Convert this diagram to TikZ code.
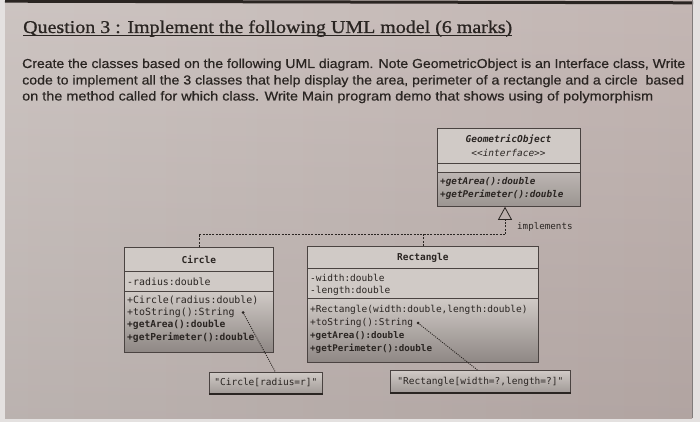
\documentclass[tikz,border=0pt]{standalone}
\usepackage{fontspec}
\setmainfont{Liberation Serif}
\newfontfamily\titlefont[FakeBold=0.8]{Liberation Serif}
\newfontfamily\parafont[FakeBold=0.5]{Liberation Sans}
\newfontfamily\umlfont{DejaVu Sans Mono}
\usetikzlibrary{arrows.meta}
\definecolor{ink}{HTML}{2A2522}
\definecolor{edgec}{HTML}{4A4341}
\definecolor{boxfill}{HTML}{D0CAC6}
\definecolor{opsTop}{HTML}{D0CAC6}
\definecolor{opsBot}{HTML}{8E8784}
\definecolor{margin}{HTML}{E4E1E0}
\definecolor{paperL}{HTML}{C9C0BD}
\definecolor{paperR}{HTML}{BFB1AE}
\begin{document}
\begin{tikzpicture}[x=1pt,y=-1pt,
  sect/.style={draw=edgec, line width=0.8pt, fill=boxfill, anchor=north west, inner sep=0pt},
  opsect/.style={draw=edgec, line width=0.8pt, top color=opsTop, bottom color=opsBot, anchor=north west, inner sep=0pt},
  notebox/.style={draw=edgec, line width=0.8pt, top color=boxfill, bottom color=opsBot!70!boxfill, inner sep=0pt, anchor=north west},
  umltxt/.style={font=\umlfont\fontsize{9.5pt}{11pt}\selectfont, text=ink, inner sep=0pt},
  leftrow/.style={umltxt, anchor=west},
  realize/.style={draw=ink, line width=0.8pt, dash pattern=on 2pt off 1.3pt},
  dotline/.style={draw=ink, line width=0.9pt, dash pattern=on 1pt off 1.2pt},
]
\useasboundingbox (0,0) rectangle (700,422);
% paper
\fill[margin] (0,0) rectangle (700,422);
\shade[left color=paperL, right color=paperR] (5,0) rectangle (692,418);
\shade[top color=white, bottom color=black, fill opacity=0.07] (5,0) rectangle (692,418);
\draw[line width=3pt, ink] (5,1.2) -- (693,2.8);
\draw[line width=1pt, edgec!70] (692.5,0) -- (692.5,418);

% title and text
\node[anchor=base west, inner sep=0pt, text=ink, font=\titlefont\fontsize{18pt}{20pt}\selectfont] (title) at (23,33)
  {\resizebox{489pt}{\height}{Question 3 : Implement the following UML model (6 marks)}};
\draw[ink, line width=0.9pt] ([yshift=-2.6pt]title.base west) -- ([yshift=-2.6pt]title.base east);

\node[anchor=base west, inner sep=0pt, text=ink, font=\parafont\fontsize{13pt}{14pt}\selectfont] (p1) at (22,68)
  {\resizebox{663pt}{\height}{Create the classes based on the following UML diagram. Note GeometricObject is an Interface class, Write}};
\node[anchor=base west, inner sep=0pt, text=ink, font=\parafont\fontsize{13pt}{14pt}\selectfont] (p2) at (22,84.5)
  {\resizebox{662pt}{\height}{code to implement all the 3 classes that help display the area, perimeter of a rectangle and a circle~ based}};
\node[anchor=base west, inner sep=0pt, text=ink, font=\parafont\fontsize{13pt}{14pt}\selectfont] (p3) at (22,100.5)
  {\resizebox{631pt}{\height}{on the method called for which class. Write Main program demo that shows using of polymorphism}};

% GeometricObject
\node[sect, minimum width=143pt, minimum height=35pt] (gName) at (437,128) {};
\node[sect, minimum width=143pt, minimum height=9pt] (gAttr) at (437,163) {};
\node[opsect, top color=opsTop!70!opsBot, bottom color=opsBot!80!opsTop, minimum width=143pt, minimum height=34pt] (gOps) at (437,172) {};
\node[umltxt, font=\umlfont\bfseries\itshape\fontsize{9.5pt}{11pt}\selectfont] (gT1) at (508.5,140) {GeometricObject};
\node[umltxt, font=\umlfont\itshape\fontsize{9.5pt}{11pt}\selectfont] (gT2) at (508.5,153) {<<interface>>};
\node[leftrow, font=\umlfont\bfseries\itshape\fontsize{9.3pt}{11pt}\selectfont] (gO1) at (440,182) {+getArea():double};
\node[leftrow, font=\umlfont\bfseries\itshape\fontsize{9.3pt}{11pt}\selectfont] (gO2) at (440,194.5) {+getPerimeter():double};

% Circle
\node[sect, minimum width=149pt, minimum height=24pt] (cName) at (124,247) {};
\node[sect, minimum width=149pt, minimum height=20pt] (cAttr) at (124,271) {};
\node[opsect, minimum width=149pt, minimum height=61pt] (cOps) at (124,291) {};
\node[umltxt, font=\umlfont\bfseries\fontsize{9.5pt}{11pt}\selectfont] (cT) at (cName.center) {Circle};
\node[leftrow, font=\umlfont\fontsize{9.9pt}{11pt}\selectfont] (cA1) at (127,281.5) {-radius:double};
\node[leftrow, font=\umlfont\fontsize{9.9pt}{11pt}\selectfont] (cO1) at (127,300) {+Circle(radius:double)};
\node[leftrow, font=\umlfont\fontsize{9.9pt}{11pt}\selectfont] (cO2) at (127,312.5) {+toString():String};
\node[leftrow, font=\umlfont\bfseries\fontsize{9.6pt}{11pt}\selectfont] (cO3) at (127,325) {+getArea():double};
\node[leftrow, font=\umlfont\bfseries\fontsize{9.6pt}{11pt}\selectfont] (cO4) at (127,338) {+getPerimeter():double};

% Rectangle
\node[sect, minimum width=231pt, minimum height=22pt] (rName) at (307,246) {};
\node[sect, minimum width=231pt, minimum height=30pt] (rAttr) at (307,268) {};
\node[opsect, minimum width=231pt, minimum height=64pt] (rOps) at (307,298) {};
\node[umltxt, font=\umlfont\bfseries\fontsize{9.5pt}{11pt}\selectfont] (rT) at (rName.center) {Rectangle};
\node[leftrow] (rA1) at (310,278) {-width:double};
\node[leftrow] (rA2) at (310,291) {-length:double};
\node[leftrow] (rO1) at (310,310) {+Rectangle(width:double,length:double)};
\node[leftrow] (rO2) at (310,323) {+toString():String};
\node[leftrow, font=\umlfont\bfseries\fontsize{9.2pt}{11pt}\selectfont] (rO3) at (310,336) {+getArea():double};
\node[leftrow, font=\umlfont\bfseries\fontsize{9.2pt}{11pt}\selectfont] (rO4) at (310,348.5) {+getPerimeter():double};

% notes
\node[notebox, minimum width=113pt, minimum height=21pt] (cNote) at (209,372) {};
\node[umltxt] (cNoteT) at (cNote.center) {"Circle[radius=r]"};
\draw[ink, line width=1.6pt] (cNote.south west) -- (cNote.south east);
\node[notebox, minimum width=180pt, minimum height=22pt] (rNote) at (390,370) {};
\node[umltxt] (rNoteT) at (rNote.center) {"Rectangle[width=?,length=?]"};
\draw[ink, line width=1.6pt] (rNote.south west) -- (rNote.south east);

% note connectors
\coordinate (cDot) at (243,312.5);
\coordinate (rDot) at (418,323);
\fill[ink] (cDot) circle (1.5pt);
\fill[ink] (rDot) circle (1.5pt);
\draw[dotline] (cDot) -- ([xshift=9.5pt]cNote.north);
\draw[dotline] (rDot) -- ([xshift=-3pt]rNote.north);

% realization
\coordinate (jL) at (199,234);
\coordinate (jM) at (423,234);
\coordinate (jR) at (505,234);
\draw[realize] (cName.north -| jL) -- (jL) -- (jR);
\draw[realize] (rName.north -| jM) -- (jM);
\draw[realize, -{Triangle[open, length=13pt, width=14pt, line width=0.8pt]}] (jR) -- (gOps.south -| jR);
\node[umltxt, anchor=west, font=\umlfont\fontsize{9.2pt}{11pt}\selectfont] (impl) at (517,227) {implements};
\end{tikzpicture}
\end{document}
